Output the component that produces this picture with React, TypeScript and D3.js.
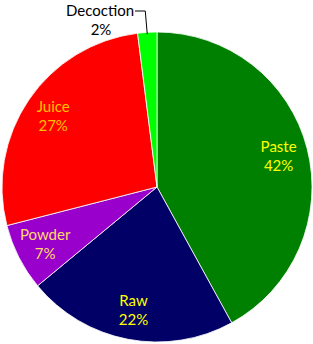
import React from "react";
import * as d3 from "d3";

const categories = ["Paste", "Raw", "Powder", "Juice", "Decoction"];
const values = [42, 22, 7, 27, 2];
const colors = ["#008000", "#000066", "#9900cc", "#ff0000", "#00ff00"];
const labelColors = ["#ffff00", "#ffff00", "#ffd966", "#ffc000", "#000000"];

export default function App() {
  const W = 313, H = 344;
  const cx = 157, cy = 187, R = 155;
  const pie = d3.pie<number>().sort(null).value((d) => d)(values);
  const arc = d3.arc<d3.PieArcDatum<number>>().innerRadius(0).outerRadius(R);
  const labelArc = d3.arc<d3.PieArcDatum<number>>().innerRadius(R * 0.81).outerRadius(R * 0.81);
  const font = "Lato, 'Open Sans', sans-serif";
  const fs = 15;
  return (
    <svg width={W} height={H} style={{ position: "absolute", left: 0, top: 0, background: "#fff" }}>
      <g transform={`translate(${cx},${cy})`}>
        {pie.map((p, i) => (
          <path key={i} d={arc(p) || ""} fill={colors[i]} stroke="#fff" strokeWidth={0.8} />
        ))}
        {pie.map((p, i) => {
          if (categories[i] === "Decoction") return null;
          const [x, y] = labelArc.centroid(p);
          return (
            <g key={i} fontFamily={font} fontSize={fs} fill={labelColors[i]} textAnchor="middle">
              <text x={x} y={y - 4}>{categories[i]}</text>
              <text x={x} y={y + 15}>{values[i]}%</text>
            </g>
          );
        })}
      </g>
      {(() => {
        const i = 4;
        const p = pie[i];
        const a = (p.startAngle + p.endAngle) / 2;
        const ex = cx + Math.sin(a) * R;
        const ey = cy - Math.cos(a) * R;
        return (
          <g>
            <polyline points={`${ex},${ey + 2} ${ex - 2},11 135,11`} fill="none" stroke="#000" strokeWidth={1} />
            <g fontFamily={font} fontSize={fs} fill={labelColors[i]} textAnchor="middle">
              <text x={100} y={16}>{categories[i]}</text>
              <text x={101} y={35}>{values[i]}%</text>
            </g>
          </g>
        );
      })()}
    </svg>
  );
}
